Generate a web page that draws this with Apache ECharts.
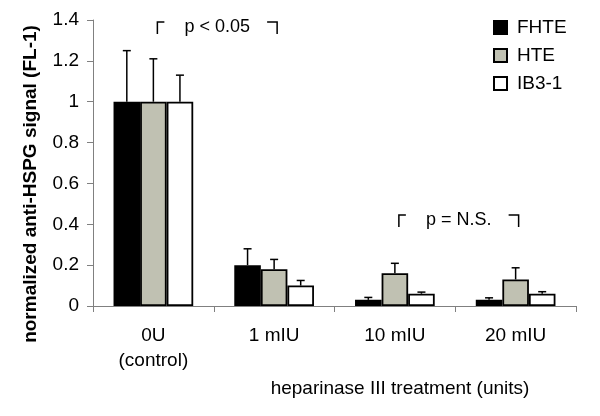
<!DOCTYPE html>
<html>
<head>
<meta charset="utf-8">
<script src="https://cdn.jsdelivr.net/npm/echarts@6/dist/echarts.min.js"></script>
<style>
  html, body { margin: 0; padding: 0; background: #fff; }
  #chart { width: 600px; height: 416px; }
</style>
</head>
<body>
<div id="chart"></div>
<script>
const categories = ['0U\n(control)', '1 mIU', '10 mIU', '20 mIU']
const seriesNames = ['FHTE', 'HTE', 'IB3-1']
const fhte = [1, 0.2, 0.03, 0.03]
const hte = [1, 0.18, 0.16, 0.13]
const ib3 = [1, 0.1, 0.06, 0.06]
// upper error bar ends
const fhteErr = [1.25, 0.28, 0.042, 0.04]
const hteErr = [1.21, 0.228, 0.209, 0.187]
const ib3Err = [1.13, 0.125, 0.068, 0.07]
const yTicks = [0, 0.2, 0.4, 0.6, 0.8, 1, 1.2, 1.4]
// significance brackets: [fromCategory, toCategory, y, label]
const brackets = [
  [0, 1, 1.39, 'p < 0.05'],
  [2, 3, 0.445, 'p = N.S.'],
]

const FONT = 'Liberation Sans, Arial, sans-serif'
const colors = ['#000000', '#c0c1b2', '#ffffff']
const values = [fhte, hte, ib3]
const errs = [fhteErr, hteErr, ib3Err]
const BAR_FRAC = 0.22

const chart = echarts.init(document.getElementById('chart'))

function errorBarSeries(i) {
  return {
    type: 'custom',
    name: seriesNames[i] + ' err',
    z: 3,
    data: values[i].map((v, k) => [k, v, errs[i][k]]),
    renderItem: (params, api) => {
      const catW = api.size([1, 0])[0]
      const bw = catW * BAR_FRAC
      const base = api.coord([api.value(0), api.value(1)])
      const top = api.coord([api.value(0), api.value(2)])
      const x = base[0] + (i - 1) * bw
      const style = { stroke: '#000', lineWidth: 1.5 }
      return {
        type: 'group',
        children: [
          { type: 'line', shape: { x1: x, y1: base[1], x2: x, y2: top[1] }, style },
          { type: 'line', shape: { x1: x - 4, y1: top[1], x2: x + 4, y2: top[1] }, style },
        ],
      }
    },
  }
}

const bracketSeries = {
  type: 'custom',
  name: 'brackets',
  z: 4,
  data: brackets,
  renderItem: (params, api) => {
    const a = api.coord([api.value(0), api.value(2)])
    const b = api.coord([api.value(1), api.value(2)])
    const x1 = a[0] + 4
    const x2 = b[0] + 3
    const y = a[1]
    const h = 12
    const style = { stroke: '#000', lineWidth: 1.5, fill: null }
    return {
      type: 'group',
      children: [
        { type: 'polyline', shape: { points: [[x1, y + h], [x1, y], [x1 + 7, y]] }, style },
        { type: 'polyline', shape: { points: [[x2 - 10, y], [x2, y], [x2, y + h]] }, style },
        {
          type: 'text',
          style: {
            text: brackets[params.dataIndex][3],
            x: (x1 + x2) / 2,
            y: y + 5,
            align: 'center',
            verticalAlign: 'middle',
            font: '18px ' + FONT,
            fill: '#000',
          },
        },
      ],
    }
  },
}

chart.setOption({
  animation: false,
  grid: { left: 93, right: 24, top: 20, bottom: 110 },
  legend: {
    data: seriesNames,
    orient: 'vertical',
    left: 488,
    top: 13,
    icon: 'rect',
    itemWidth: 13,
    itemHeight: 13,
    itemGap: 9,
    textStyle: { fontFamily: FONT, fontSize: 19, color: '#000', lineHeight: 19, padding: [0, 0, 0, 5] },
  },
  xAxis: {
    type: 'category',
    data: categories,
    axisLine: { lineStyle: { color: '#808080', width: 1 } },
    axisTick: { show: true, length: 6, lineStyle: { color: '#808080' } },
    axisLabel: { color: '#000', fontFamily: FONT, fontSize: 19, lineHeight: 25, margin: 17 },
  },
  yAxis: {
    type: 'value',
    min: yTicks[0],
    max: yTicks[yTicks.length - 1],
    interval: 0.2,
    splitLine: { show: false },
    axisLine: { show: true, lineStyle: { color: '#808080', width: 1 } },
    axisTick: { show: true, length: 6, lineStyle: { color: '#808080' } },
    axisLabel: { color: '#000', fontFamily: FONT, fontSize: 19, margin: 14 },
  },
  graphic: [
    {
      type: 'text',
      x: 31,
      y: 184,
      rotation: Math.PI / 2,
      style: {
        text: 'normalized anti-HSPG signal (FL-1)',
        font: 'bold 19px ' + FONT,
        fill: '#000',
        align: 'center',
        verticalAlign: 'middle',
      },
    },
    {
      type: 'text',
      x: 400,
      y: 389,
      style: {
        text: 'heparinase III treatment (units)',
        font: '19px ' + FONT,
        fill: '#000',
        align: 'center',
        verticalAlign: 'middle',
      },
    },
  ],
  series: [
    ...seriesNames.map((name, i) => ({
      type: 'bar',
      name,
      data: values[i],
      barWidth: BAR_FRAC * 100 + '%',
      barGap: '0%',
      itemStyle: { color: colors[i], borderColor: '#000', borderWidth: 1.8 },
    })),
    ...seriesNames.map((_, i) => errorBarSeries(i)),
    bracketSeries,
  ],
})
</script>
</body>
</html>
